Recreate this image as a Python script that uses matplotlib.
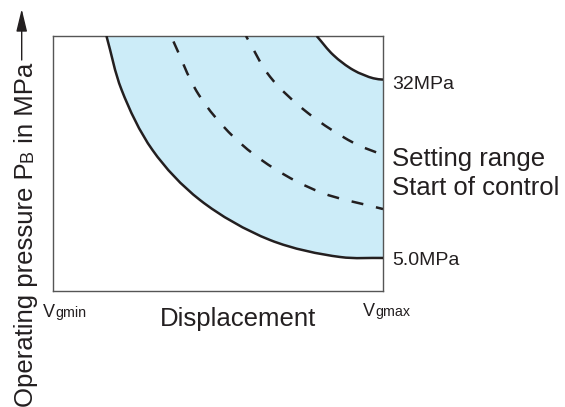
import matplotlib
matplotlib.use("Agg")
import matplotlib.pyplot as plt
from matplotlib.path import Path
from matplotlib.patches import PathPatch

plt.rcParams["font.family"] = ["Liberation Sans", "DejaVu Sans"]

W, H = 565, 407
INK = "#231f20"
FILL = "#ccecf8"

# Displacement in % of the Vgmin..Vgmax span, pressure in MPa
P_MAX = 38.6

lower_x = [16.2, 20.8, 30.15, 44.55, 65.76, 86.97, 100.0]
lower_p = [38.6, 30.43, 21.34, 13.77, 7.72, 5.15, 5.0]

upper_x = [79.91, 84.94, 91.0, 97.06, 100.0]
upper_p = [38.6, 35.72, 33.45, 32.2, 32.0]

start_x = [35.76, 44.03, 54.64, 66.76, 81.42, 100.0]
start_p = [38.6, 29.82, 23.36, 18.62, 14.88, 12.41]

setting_x = [58.48, 65.76, 77.36, 91.0, 100.0]
setting_p = [38.6, 32.44, 26.9, 22.45, 20.59]

pressure_labels = ["32MPa", "5.0MPa"]
pressure_values = [32.0, 5.0]
curve_labels = ["Setting range", "Start of control"]

# data units -> screen pixels, so the spline is parametrised on what is seen
SX, SY = 330 / 100.0, 255 / P_MAX


def bezier_segments(xs, ys):
    """Centripetal Catmull-Rom spline through the points, as cubic Beziers."""
    pts = [(x * SX, y * SY) for x, y in zip(xs, ys)]
    n = len(pts)
    first = (2 * pts[0][0] - pts[1][0], 2 * pts[0][1] - pts[1][1])
    last = (2 * pts[-1][0] - pts[-2][0], 2 * pts[-1][1] - pts[-2][1])
    ext = [first] + pts + [last]

    def dist(a, b):
        return max(((a[0] - b[0]) ** 2 + (a[1] - b[1]) ** 2) ** 0.25, 1e-6)

    verts, codes = [], []
    for i in range(1, n):
        p0, p1, p2, p3 = ext[i - 1], ext[i], ext[i + 1], ext[i + 2]
        d01, d12, d23 = dist(p0, p1), dist(p1, p2), dist(p2, p3)
        m1 = [d12 * ((p1[k] - p0[k]) / d01 - (p2[k] - p0[k]) / (d01 + d12)
                     + (p2[k] - p1[k]) / d12) for k in range(2)]
        m2 = [d12 * ((p2[k] - p1[k]) / d12 - (p3[k] - p1[k]) / (d12 + d23)
                     + (p3[k] - p2[k]) / d23) for k in range(2)]
        c1 = (p1[0] + m1[0] / 3, p1[1] + m1[1] / 3)
        c2 = (p2[0] - m2[0] / 3, p2[1] - m2[1] / 3)
        for v in (c1, c2, p2):
            verts.append((v[0] / SX, v[1] / SY))
        codes += [Path.CURVE4] * 3
    return verts, codes


def smooth_path(xs, ys):
    v, c = bezier_segments(xs, ys)
    return Path([(xs[0], ys[0])] + v, [Path.MOVETO] + c)


fig = plt.figure(figsize=(W / 100, H / 100), dpi=100)
ax = fig.add_axes([53 / W, (H - 291) / H, 330 / W, 255 / H])
ax.set_xlim(0, 100)
ax.set_ylim(0, P_MAX)
ax.set_xticks([])
ax.set_yticks([])
for sp in ax.spines.values():
    sp.set_color("#555555")
    sp.set_linewidth(1.0)

# Shaded band between the lowest and highest control curves
lv, lc = bezier_segments(lower_x, lower_p)
uv, uc = bezier_segments(upper_x[::-1], upper_p[::-1])
band_verts = [(lower_x[0], lower_p[0])] + lv + [(upper_x[-1], upper_p[-1])] + uv + \
             [(lower_x[0], lower_p[0]), (lower_x[0], lower_p[0])]
band_codes = [Path.MOVETO] + lc + [Path.LINETO] + uc + [Path.LINETO, Path.CLOSEPOLY]
ax.add_patch(PathPatch(Path(band_verts, band_codes), facecolor=FILL,
                       edgecolor="none", zorder=1))

lw = 1.8
for xs, ps in [(lower_x, lower_p), (upper_x, upper_p)]:
    ax.add_patch(PathPatch(smooth_path(xs, ps), facecolor="none",
                           edgecolor=INK, lw=lw, zorder=3))
ax.add_patch(PathPatch(smooth_path(start_x, start_p), facecolor="none",
                       edgecolor=INK, lw=lw, linestyle=(7.6, (4.8, 5.2)),
                       capstyle="butt", zorder=3))
ax.add_patch(PathPatch(smooth_path(setting_x, setting_p), facecolor="none",
                       edgecolor=INK, lw=lw, linestyle=(3.2, (4.8, 5.2)),
                       capstyle="butt", zorder=3))

# Pressure limits at the right edge
for lab, val, dy in zip(pressure_labels, pressure_values, [-9, -7]):
    ax.annotate(lab, xy=(100, val), xytext=(9, dy), textcoords="offset pixels",
                ha="left", va="baseline", fontsize=14, color=INK,
                annotation_clip=False)


def fpos(x, y):
    return x / W, 1 - y / H


for lab, yb in zip(curve_labels, [166, 195]):
    fig.text(*fpos(392, yb), lab, ha="left", va="baseline", fontsize=18.5, color=INK)

fig.text(*fpos(237.5, 326), "Displacement", ha="center", va="baseline",
         fontsize=18.5, color=INK)

fig.canvas.draw()
renderer = fig.canvas.get_renderer()


def run_text(x, y, pieces, rotation=0):
    """Write text pieces of different sizes one after another on one baseline."""
    pos = 0.0
    for s, size in pieces:
        if rotation:
            t = fig.text(x / W, (H - y + pos) / H, s, rotation=90,
                         rotation_mode="anchor", ha="left", va="baseline",
                         fontsize=size, color=INK)
            pos += t.get_window_extent(renderer).height
        else:
            t = fig.text((x + pos) / W, 1 - y / H, s, ha="left", va="baseline",
                         fontsize=size, color=INK)
            pos += t.get_window_extent(renderer).width


run_text(43, 317, [("V", 13), ("gmin", 10.3)])
run_text(363, 316, [("V", 13), ("gmax", 10.3)])
run_text(33, 407, [("Operating pressure P", 18.5), ("B", 13), (" in MPa", 18.5)],
         rotation=90)

ax.annotate("", xy=(21.7, H - 9), xytext=(21.7, H - 60),
            xycoords="figure pixels", textcoords="figure pixels",
            arrowprops=dict(arrowstyle="-|>,head_length=1.37,head_width=0.33",
                            mutation_scale=10, lw=1.0, color=INK,
                            shrinkA=0, shrinkB=0),
            annotation_clip=False)

fig.savefig("out.png", dpi=100)
